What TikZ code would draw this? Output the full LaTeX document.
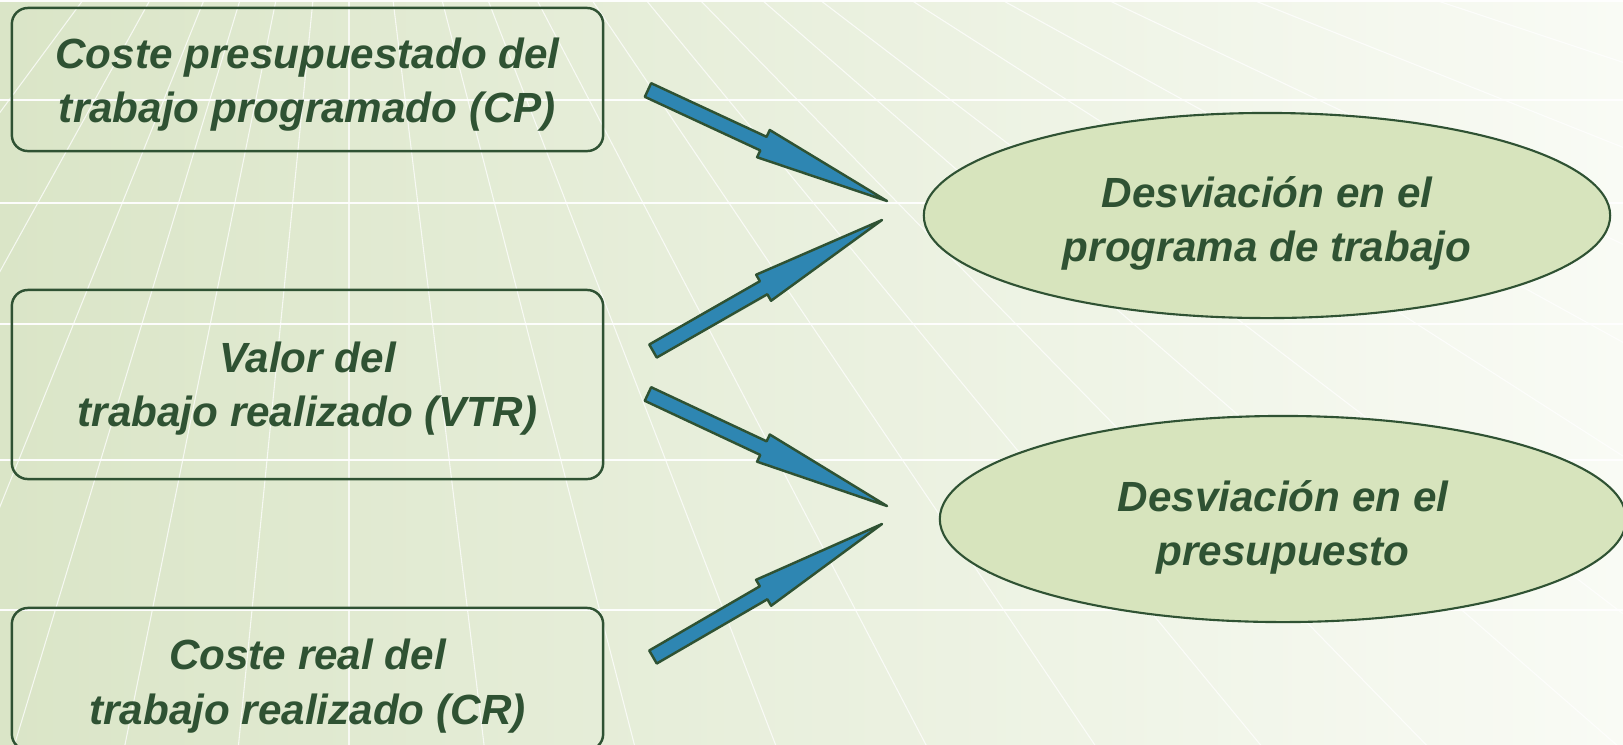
\documentclass[tikz,border=0pt]{standalone}
\usepackage{fontspec}
\setmainfont{Liberation Sans}
\usetikzlibrary{shapes.geometric,calc}

\definecolor{verdeosc}{RGB}{47,82,51}
\definecolor{azulflecha}{RGB}{46,134,178}
\definecolor{verdeclaro}{RGB}{215,228,189}
\definecolor{fondoA}{RGB}{218,229,199}
\definecolor{fondoB}{RGB}{249,251,245}

\def\ux{0.01cm}
\def\uy{-0.01cm}
\newcommand{\letra}{\fontsize{12}{15.4}\selectfont\bfseries\itshape}

% flecha de bloque entre dos coordenadas
\newcommand{\flechabloque}[2]{%
  \draw[flecha] ($(#1)!0.075cm!90:(#2)$)
    -- ($(#1)!0.483!(#2)!0.075cm!90:(#2)$)
    -- ($(#1)!0.483!(#2)!0.15cm!90:(#2)$)
    -- (#2)
    -- ($(#1)!0.483!(#2)!0.15cm!-90:(#2)$)
    -- ($(#1)!0.483!(#2)!0.075cm!-90:(#2)$)
    -- ($(#1)!0.075cm!-90:(#2)$) -- cycle;}

\begin{document}
\begin{tikzpicture}[x=\ux,y=\uy]
		\tikzset{
			caja/.style={draw=verdeosc, line width=0.7pt, rounded corners=0.16cm,
				minimum width=5.91cm, inner sep=0pt},
			elipse/.style={ellipse, draw=verdeosc, line width=0.6pt, fill=verdeclaro,
				minimum width=6.86cm, minimum height=2.05cm, inner sep=0pt},
			texto/.style={align=center, text=verdeosc, font=\letra, inner sep=0pt},
			flecha/.style={fill=azulflecha, draw=verdeosc, line width=0.7pt, line join=round},
			rejilla/.style={white, line width=0.3pt, opacity=0.75},
		}
		\useasboundingbox (0,0) rectangle (1623,744);
		\clip (0,0) rectangle (1623,744);
		\shade[left color=fondoA, right color=fondoB] (0,0) rectangle (1623,744);

		% rejilla del fondo
		\coordinate (fuga) at (349,-360);
		\foreach \x in {-20,83,150,204,240,276,313,349,393,442,488,537,592,646,700,762,820,911,1002,1108,1253,1435}{
			\draw[rejilla] (fuga) -- ($(fuga)!3.1!(\x,0)$);
		}
		\foreach \y in {1,100,203,324,460,610}{
			\draw[rejilla, line width=0.6pt, opacity=0.95] (0,\y) -- (1623,\y);
		}

		\node[caja, minimum height=1.43cm] (cp) at (307.5,79.5) {};
		\node[caja, minimum height=1.89cm] (vtr) at (307.5,384.5) {};
		\node[caja, minimum height=1.42cm] (cr) at (307.5,679) {};
		\node[elipse] (dpt) at (1267,215.5) {};
		\node[elipse, minimum height=2.06cm] (dpr) at (1283,519) {};

		\node[texto] (cp-t) at ($(cp)+(0,5)$) {Coste presupuestado del\\trabajo programado (CP)};
		\node[texto] (vtr-t) at ($(vtr)+(0,4)$) {Valor del\\trabajo realizado (VTR)};
		\node[texto] (cr-t) at ($(cr)+(0,7)$) {Coste real del\\trabajo realizado (CR)};
		\node[texto] (dpt-t) at ($(dpt)+(0,8)$) {Desviación en el\\programa de trabajo};
		\node[texto] (dpr-t) at ($(dpr)+(0,8)$) {Desviación en el\\presupuesto};

		\coordinate (cp-s) at (648,90);
		\coordinate (dpt-e1) at (887,201);
		\coordinate (vtr-s1) at (653,351);
		\coordinate (dpt-e2) at (882,220);
		\coordinate (vtr-s2) at (648,394);
		\coordinate (dpr-e1) at (887,506);
		\coordinate (cr-s) at (653,657);
		\coordinate (dpr-e2) at (882,524);

		\flechabloque{cp-s}{dpt-e1}
		\flechabloque{vtr-s1}{dpt-e2}
		\flechabloque{vtr-s2}{dpr-e1}
		\flechabloque{cr-s}{dpr-e2}
\end{tikzpicture}
\end{document}
